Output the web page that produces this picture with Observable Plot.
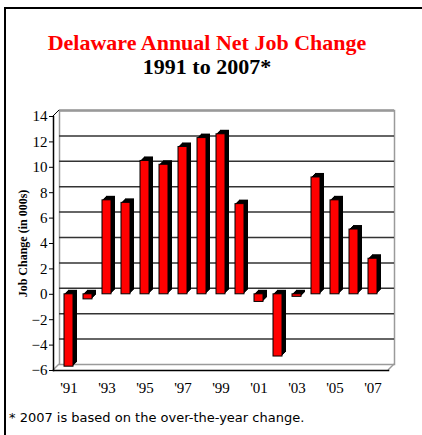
<!DOCTYPE html>
<html>
<head>
<meta charset="utf-8">
<script src="https://cdn.jsdelivr.net/npm/d3@7"></script>
<script src="https://cdn.jsdelivr.net/npm/@observablehq/plot@0.6"></script>
<style>
  html, body { margin: 0; padding: 0; background: #fff; overflow: hidden; }
  #wrap { position: relative; width: 422px; height: 435px; overflow: hidden; }
  #border { position: absolute; left: 4px; top: 7px; width: 440px; height: 440px;
            border-top: 2px solid #000; border-left: 2px solid #000; }
  .title { position: absolute; left: 0; width: 414px; text-align: center;
           font-family: "Liberation Serif", serif; font-weight: bold; font-size: 22px; line-height: 22px; white-space: nowrap; }
  #t1 { top: 32px; color: #ff0000; }
  #t2 { top: 56px; color: #000; }
  #chart { position: absolute; left: 0; top: 100px; }
  #caption { position: absolute; left: 9px; top: 410px; font-family: "DejaVu Sans", sans-serif; font-size: 13px; color: #000; white-space: nowrap; }
  svg [aria-label="y-axis label"] { font-weight: bold; font-size: 12px; }
</style>
</head>
<body>
<div id="wrap">
  <div id="border"></div>
  <div class="title" id="t1">Delaware Annual Net Job Change</div>
  <div class="title" id="t2">1991 to 2007*</div>
  <div id="chart"></div>
  <div id="caption">* 2007 is based on the over-the-year change.</div>
</div>
<script>
const years = [1991, 1992, 1993, 1994, 1995, 1996, 1997, 1998, 1999, 2000, 2001, 2002, 2003, 2004, 2005, 2006, 2007];
const values = [-5.7, -0.4, 7.4, 7.2, 10.5, 10.2, 11.6, 12.3, 12.6, 7.1, -0.6, -4.9, -0.2, 9.2, 7.4, 5.1, 2.8];
const xTicks = [1991, 1993, 1995, 1997, 1999, 2001, 2003, 2005, 2007];
const yTicks = [-6, -4, -2, 0, 2, 4, 6, 8, 10, 12, 14];
const gridLines = [-4, -2, 0, 2, 4, 6, 8, 10, 12];

const data = years.map((year, i) => ({year, value: values[i]}));
const depth = 6;
const barDepth = 4;

function boxEdges(index, scales, vals, dims) {
  const l = dims.marginLeft;
  const r = dims.width - dims.marginRight;
  const yt = scales.y(14);
  const yb = scales.y(-6);
  const g = d3.create("svg:g").attr("fill", "none");
  g.append("line").attr("x1", l).attr("y1", yt).attr("x2", l + depth).attr("y2", yt - depth)
    .attr("stroke", "#000").attr("stroke-width", 1);
  g.append("line").attr("x1", l).attr("y1", yb).attr("x2", l + depth).attr("y2", yb - depth)
    .attr("stroke", "#999").attr("stroke-width", 1.5);
  g.append("line").attr("x1", r).attr("y1", yb).attr("x2", r + depth).attr("y2", yb - depth)
    .attr("stroke", "#999").attr("stroke-width", 1.5);
  return g.node();
}

const shadowMarks = [1, 2, 3, 4].map(k =>
  Plot.barY(data, {x: "year", y: "value", fill: "#000", dx: k, dy: -k})
);

const chart = Plot.plot({
  width: 422,
  height: 290,
  marginLeft: 53,
  marginRight: 34,
  marginTop: 16,
  marginBottom: 20,
  style: {fontFamily: "Liberation Serif, serif", fontSize: "15px", background: "transparent", overflow: "visible"},
  x: {domain: years, padding: 0.54, align: 0.5},
  y: {domain: [-6, 14]},
  marks: [
    Plot.frame({stroke: "#9a9a9a", strokeWidth: 1.5, dx: depth, dy: -depth}),
    Plot.ruleY([14], {stroke: "#999", strokeWidth: 2.5, dx: depth, dy: -depth}),
    Plot.ruleY(gridLines, {stroke: "#333", strokeWidth: 1.5, dx: depth, dy: -depth}),
    boxEdges,
    Plot.frame({anchor: "bottom", stroke: "#000", strokeWidth: 1.5}),
    ...shadowMarks,
    Plot.barY(data, {x: "year", y: "value", fill: "#ff0000", stroke: "#000", strokeWidth: 1}),
    Plot.frame({anchor: "left", stroke: "#000", strokeWidth: 1.5}),
    Plot.axisX({ticks: xTicks, tickFormat: d => "'" + String(d).slice(2), tickSize: 0, tickPadding: 12, label: null}),
    Plot.axisY({ticks: yTicks, tickSize: 4, tickPadding: 2, label: "Job Change (in 000s)", labelAnchor: "center", labelArrow: "none", labelOffset: 35})
  ]
});
document.getElementById("chart").appendChild(chart);
</script>
</body>
</html>
